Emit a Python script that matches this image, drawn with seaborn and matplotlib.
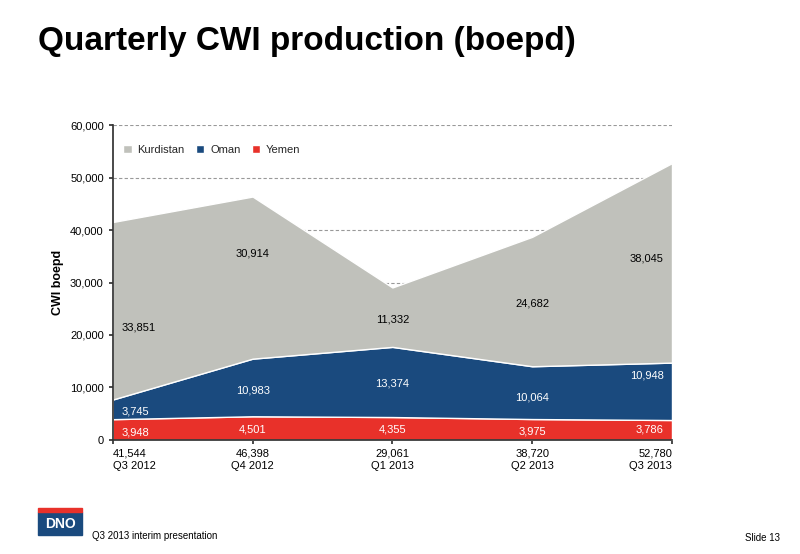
import matplotlib
matplotlib.use("Agg")
import matplotlib.pyplot as plt
import seaborn as sns
import numpy as np

quarters = ["Q3 2012", "Q4 2012", "Q1 2013", "Q2 2013", "Q3 2013"]
totals = ["41,544", "46,398", "29,061", "38,720", "52,780"]
yemen = [3948, 4501, 4355, 3975, 3786]
oman = [3745, 10983, 13374, 10064, 10948]
kurdistan = [33851, 30914, 11332, 24682, 38045]

sns.set_theme(style="white")
plt.rcParams['font.family'] = ['Liberation Sans', 'DejaVu Sans']

fig = plt.figure(figsize=(8, 5.54), dpi=100)
ax = fig.add_axes([0.141, 0.206, 0.699, 0.568])
x = np.arange(len(quarters))
cols = ["#e8312a", "#1a4a7e", "#c0c1bb"]
ax.stackplot(x, yemen, oman, kurdistan, colors=cols, labels=["Yemen", "Oman", "Kurdistan"])
ax.set_xlim(0, 4)
ax.set_ylim(0, 60000)
ax.set_yticks(range(0, 60001, 10000))
ax.set_yticklabels([f"{v:,}" for v in range(0, 60001, 10000)], fontsize=8, color="black")
ax.set_xticks(x)
ax.set_xticklabels([f"{t}\n{q}" for t, q in zip(totals, quarters)], fontsize=8, color="black")
labs = ax.get_xticklabels()
labs[0].set_ha("left"); labs[-1].set_ha("right")
for v in range(10000, 60001, 10000):
    ax.axhline(v, color="#999999", ls=(0, (3, 2)), lw=0.8, zorder=0)
for s in ["top", "right"]:
    ax.spines[s].set_visible(False)
ax.spines["left"].set_color("#333333"); ax.spines["bottom"].set_color("#333333")
ax.tick_params(axis="both", length=3, direction="out", left=True, bottom=True, color="#333333")
ax.set_ylabel("CWI boepd", fontsize=9, fontweight="bold", color="black")

xs = [0.06, 1, 2, 3, 3.94]
has = ["left", "center", "center", "center", "right"]
ky = [21500, 35500, 23000, 26000, 34500]
oy = [5500, 9500, 10800, 8000, 12300]
yy = [1500, 1900, 1900, 1600, 1900]
for i in range(5):
    ax.text(xs[i], yy[i], f"{yemen[i]:,}", color="white", fontsize=8, ha=has[i], va="center")
    ax.text(xs[i], oy[i], f"{oman[i]:,}", color="white", fontsize=8, ha=has[i], va="center")
    ax.text(xs[i], ky[i], f"{kurdistan[i]:,}", color="black", fontsize=8, ha=has[i], va="center")

h, l = ax.get_legend_handles_labels()
ax.legend(h[::-1], l[::-1], loc="upper left", ncol=3, frameon=False, fontsize=8,
          handlelength=0.8, handleheight=0.8, columnspacing=1.0, handletextpad=0.5,
          bbox_to_anchor=(0.0, 0.97))

fig.text(0.047, 0.925, "Quarterly CWI production (boepd)", fontsize=24, fontweight="bold",
         va="center", color="black")
fig.text(0.115, 0.033, "Q3 2013 interim presentation", fontsize=7, va="center", color="black")
fig.text(0.975, 0.028, "Slide 13", fontsize=7, ha="right", va="center", color="black")
fig.patches.append(plt.Rectangle((0.048, 0.035), 0.055, 0.04, transform=fig.transFigure, color="#1a4a7e"))
fig.patches.append(plt.Rectangle((0.048, 0.075), 0.055, 0.008, transform=fig.transFigure, color="#e8312a"))
fig.text(0.0755, 0.055, "DNO", fontsize=10, fontweight="bold", color="white", ha="center", va="center")
fig.savefig("out.png", dpi=100)
